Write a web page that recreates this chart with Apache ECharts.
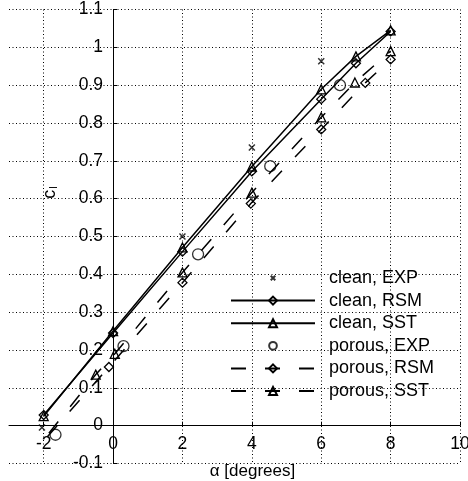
<!DOCTYPE html>
<html>
<head>
<meta charset="utf-8">
<script src="https://cdn.jsdelivr.net/npm/echarts@6/dist/echarts.min.js"></script>
<style>
  html, body { margin: 0; padding: 0; background: #fff; }
  #chart { width: 468px; height: 481px; }
</style>
</head>
<body>
<div id="chart"></div>
<script>
// alpha [deg], c_l
const cleanExp = [[-2.05, -0.005], [2, 0.5], [4, 0.735], [6, 0.963]];
const cleanRsm = [[-2, 0.028], [0, 0.245], [2, 0.46], [4, 0.672], [6, 0.863], [7, 0.958], [8, 1.042]];
const cleanSst = [[-2, 0.025], [0, 0.25], [2, 0.471], [4, 0.685], [6, 0.889], [7, 0.976], [8, 1.045]];
const porousExp = [[-1.66, -0.024], [0.3, 0.21], [2.45, 0.453], [4.53, 0.686], [6.54, 0.9]];
const porousRsm = [[-1.9, -0.03], [-0.12, 0.155], [2, 0.378], [3.97, 0.587], [6, 0.783], [7.27, 0.906], [8, 0.968]];
const porousSst = [[-1.85, -0.02], [-0.5, 0.135], [0.05, 0.19], [2, 0.405], [4, 0.616], [6, 0.815], [6.97, 0.907], [8, 0.99]];

const seriesNames = ['clean, EXP', 'clean, RSM', 'clean, SST', 'porous, EXP', 'porous, RSM', 'porous, SST'];

const FONT = 'Liberation Sans, Arial, sans-serif';
const CROSS = 'path://M0,0L10,10M0,10L10,0';
const hollow = { color: 'rgba(0,0,0,0)', borderColor: '#000', borderWidth: 1.3 };
const dash = [15, 19];

const W = 468, H = 481;
const gridBox = { left: 9, right: 8, top: 9.5, bottom: 17.5 };
const xRange = [-3, 10];
const yRange = [-0.1, 1.1];
// axes cross at the origin: shift them in from the grid edges
const yAxisShift = (W - gridBox.left - gridBox.right) * (0 - xRange[0]) / (xRange[1] - xRange[0]);
const xAxisShift = (H - gridBox.top - gridBox.bottom) * (0 - yRange[0]) / (yRange[1] - yRange[0]);

// first porous point is only the end of the dashed line, no marker there
const noFirstMarker = (arr) => arr.map((p, i) => (i === 0 ? { value: p, symbol: 'none' } : p));

const chart = echarts.init(document.getElementById('chart'));
chart.setOption({
  animation: false,
  textStyle: { fontFamily: FONT },
  grid: Object.assign({ containLabel: false, outerBoundsMode: 'none' }, gridBox),
  xAxis: {
    type: 'value',
    min: xRange[0],
    max: xRange[1],
    splitNumber: 6,
    offset: -xAxisShift,
    name: 'α [degrees]',
    nameLocation: 'middle',
    nameGap: 37,
    nameTextStyle: { fontSize: 17, color: '#000', fontFamily: FONT, padding: [0, 0, 0, 36] },
    axisLine: { onZero: false, lineStyle: { color: '#000', width: 1 } },
    axisTick: { show: true, inside: true, length: 4, lineStyle: { color: '#000' } },
    axisLabel: {
      fontSize: 17.5, color: '#000', fontFamily: FONT, margin: 10,
      showMinLabel: false,
      formatter: (v) => (v === -3 ? '' : String(v))
    },
    splitLine: { show: true, showMinLine: false, lineStyle: { color: '#000', type: [1, 2.5], width: 1 } }
  },
  yAxis: {
    type: 'value',
    min: yRange[0],
    max: yRange[1],
    interval: 0.1,
    offset: -yAxisShift,
    name: 'c{sub|l}',
    nameLocation: 'middle',
    nameRotate: 90,
    nameGap: 54,
    nameTextStyle: {
      fontSize: 18, color: '#000', fontFamily: FONT, padding: [0, 0, 0, 88],
      rich: { sub: { fontSize: 11, verticalAlign: 'bottom', padding: [6, 0, 0, 1] } }
    },
    axisLine: { onZero: false, lineStyle: { color: '#000', width: 1 } },
    axisTick: { show: true, inside: true, length: 4, lineStyle: { color: '#000' } },
    axisLabel: {
      fontSize: 17.5, color: '#000', fontFamily: FONT, margin: 10,
      formatter: (v) => String(Math.round(v * 10) / 10)
    },
    splitLine: { show: true, lineStyle: { color: '#000', type: [1, 2.5], width: 1 } }
  },
  legend: {
    orient: 'vertical',
    left: 230,
    top: 269,
    padding: 0,
    itemWidth: 84,
    itemHeight: 10,
    itemGap: 4.6,
    textStyle: { fontSize: 18, lineHeight: 18, color: '#000', fontFamily: FONT, padding: [0, 0, 0, 9] },
    data: [
      { name: seriesNames[0], icon: 'path://M-6,-6M0,0L10,10M0,10L10,0M16,16' },
      seriesNames[1], seriesNames[2],
      { name: seriesNames[3], icon: 'path://M-1.5,-1.5M0,5A5,5,0,1,1,10,5A5,5,0,1,1,0,5ZM11.5,11.5' },
      seriesNames[4], seriesNames[5]
    ]
  },
  series: [
    {
      name: seriesNames[4], type: 'line', data: noFirstMarker(porousRsm),
      symbol: 'diamond', symbolSize: 9, itemStyle: hollow,
      lineStyle: { color: '#000', width: 1.5, type: dash }
    },
    {
      name: seriesNames[5], type: 'line', data: noFirstMarker(porousSst),
      symbol: 'triangle', symbolSize: 9, itemStyle: hollow,
      lineStyle: { color: '#000', width: 1.5, type: dash }
    },
    {
      name: seriesNames[1], type: 'line', data: cleanRsm,
      symbol: 'diamond', symbolSize: 9, itemStyle: hollow,
      lineStyle: { color: '#000', width: 1.5 }
    },
    {
      name: seriesNames[2], type: 'line', data: cleanSst,
      symbol: 'triangle', symbolSize: 9, itemStyle: hollow,
      lineStyle: { color: '#000', width: 1.5 }
    },
    {
      name: seriesNames[3], type: 'scatter', data: porousExp,
      symbol: 'circle', symbolSize: 11, itemStyle: hollow
    },
    {
      name: seriesNames[0], type: 'scatter', data: cleanExp,
      symbol: CROSS, symbolSize: 6,
      itemStyle: { color: '#000', borderColor: '#000', borderWidth: 1.5 }
    }
  ]
});
</script>
</body>
</html>
